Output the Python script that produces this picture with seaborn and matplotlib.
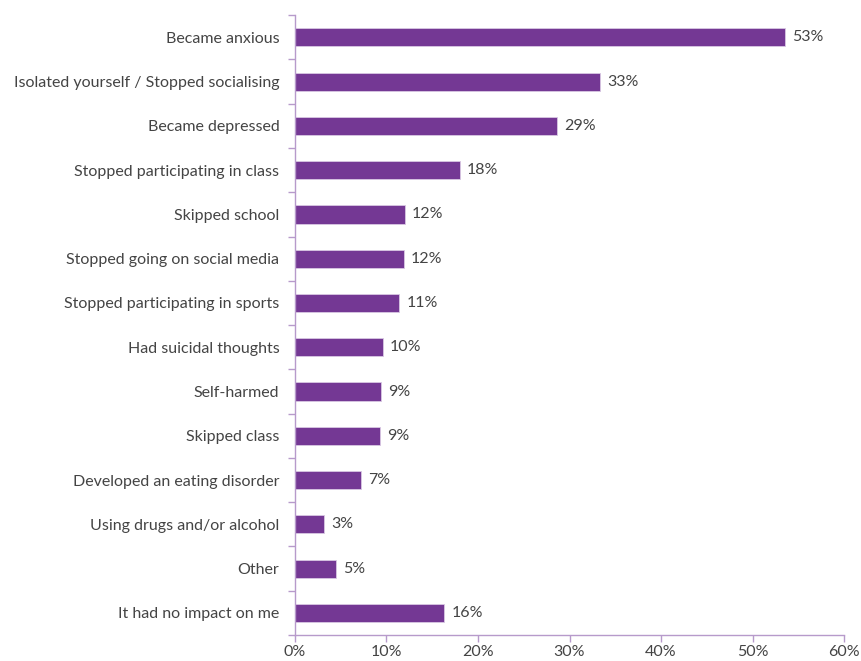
import matplotlib
matplotlib.use("Agg")
import matplotlib.pyplot as plt
import seaborn as sns
import pandas as pd
from matplotlib.ticker import FixedLocator

categories = [
    "Became anxious",
    "Isolated yourself / Stopped socialising",
    "Became depressed",
    "Stopped participating in class",
    "Skipped school",
    "Stopped going on social media",
    "Stopped participating in sports",
    "Had suicidal thoughts",
    "Self-harmed",
    "Skipped class",
    "Developed an eating disorder",
    "Using drugs and/or alcohol",
    "Other",
    "It had no impact on me",
]
values = [53.5, 33.3, 28.6, 18.0, 12.0, 11.9, 11.4, 9.6, 9.4, 9.3, 7.2, 3.2, 4.5, 16.3]
labels = ["53%", "33%", "29%", "18%", "12%", "12%", "11%", "10%", "9%", "9%", "7%", "3%", "5%", "16%"]
xticks = [0, 10, 20, 30, 40, 50, 60]
xticklabels = ["0%", "10%", "20%", "30%", "40%", "50%", "60%"]

df = pd.DataFrame({"category": categories, "value": values})

sns.set_theme(style="white")
plt.rcParams["font.family"] = ["Lato", "DejaVu Sans"]

purple = "#743894"
axis_col = "#b79acb"
text_col = "#444444"
fs = 11.5

fig = plt.figure(figsize=(8.61, 6.61), dpi=100)
ax = fig.add_axes([0.3423, 0.0393, 0.9806 - 0.3423, 0.977 - 0.0393])

sns.barplot(data=df, x="value", y="category", orient="h", color=purple,
            saturation=1, width=0.41, ax=ax, edgecolor="#d9c8e3", linewidth=0.6)

ax.set_xlim(0, 60)
ax.set_ylim(len(categories) - 0.5, -0.5)
ax.set_xlabel("")
ax.set_ylabel("")

ax.set_xticks(xticks)
ax.set_xticklabels(xticklabels, fontsize=fs, color=text_col)

# y tick marks at boundaries, labels at centers
ax.yaxis.set_major_locator(FixedLocator([i - 0.5 for i in range(len(categories) + 1)]))
ax.set_yticklabels([""] * (len(categories) + 1))
ax.yaxis.set_minor_locator(FixedLocator(list(range(len(categories)))))
ax.set_yticklabels(categories, minor=True, fontsize=fs, color=text_col)
ax.tick_params(axis="y", which="minor", length=0, pad=11)
ax.tick_params(axis="y", which="major", length=5, width=1, color=axis_col, left=True)
ax.tick_params(axis="x", length=5, width=1, color=axis_col, bottom=True, pad=2)

for s in ["top", "right"]:
    ax.spines[s].set_visible(False)
for s in ["left", "bottom"]:
    ax.spines[s].set_color(axis_col)
    ax.spines[s].set_linewidth(1)

for i, (v, lab) in enumerate(zip(values, labels)):
    ax.text(v + 0.8, i, lab, va="center", ha="left", fontsize=fs, color=text_col)

fig.savefig("out.png", dpi=100)
